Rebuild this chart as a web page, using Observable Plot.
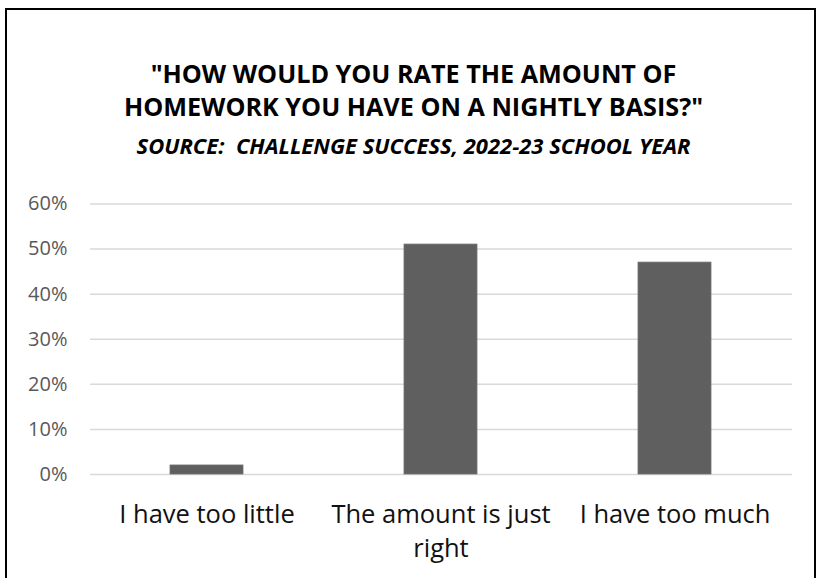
<!DOCTYPE html>
<html>
<head>
<meta charset="utf-8">
<script src="https://cdn.jsdelivr.net/npm/d3@7"></script>
<script src="https://cdn.jsdelivr.net/npm/@observablehq/plot@0.6"></script>
<style>
  html, body { margin: 0; padding: 0; background: #fff; }
  #wrap { position: relative; width: 827px; height: 578px; overflow: hidden; font-family: "Open Sans", Lato, sans-serif; }
  #border { position: absolute; left: 5px; top: 8px; width: 811px; height: 600px; border: 2.5px solid #000; box-sizing: border-box; }
  #title { position: absolute; left: 0; width: 827px; top: 57px; text-align: center; font-weight: bold; font-size: 25.2px; line-height: 33px; color: #000; }
  #subtitle { position: absolute; left: 0; width: 827px; top: 130px; text-align: center; font-weight: bold; font-style: italic; font-size: 22px; color: #000; }
  #chart { position: absolute; left: 0; top: 0; }
</style>
</head>
<body>
<div id="wrap">
  <div id="border"></div>
  <div id="title">"HOW WOULD YOU RATE THE AMOUNT OF<br>HOMEWORK YOU HAVE ON A NIGHTLY BASIS?"</div>
  <div id="subtitle">SOURCE:&nbsp; CHALLENGE SUCCESS, 2022-23 SCHOOL YEAR</div>
  <div id="chart"></div>
</div>
<script>
const categories = ["I have too little", "The amount is just right", "I have too much"];
const labels = ["I have too little", "The amount is just\nright", "I have too much"];
const values = [0.02, 0.51, 0.47];
const yTicks = [0, 0.1, 0.2, 0.3, 0.4, 0.5, 0.6];

const data = categories.map((c, i) => ({cat: c, value: values[i]}));
const labelOf = new Map(categories.map((c, i) => [c, labels[i]]));
const font = "'Open Sans', Lato, sans-serif";

const chart = Plot.plot({
  width: 827,
  height: 578,
  marginTop: 203.5,
  marginBottom: 104,
  marginLeft: 90,
  marginRight: 35,
  style: {background: "transparent", overflow: "visible"},
  x: {domain: categories, paddingInner: 0.688, paddingOuter: 0.344},
  y: {domain: [0, 0.6]},
  marks: [
    Plot.gridY(yTicks, {stroke: "#d9d9d9", strokeOpacity: 1, strokeWidth: 1.5}),
    Plot.barY(data, {x: "cat", y: "value", fill: "#5f5f5f", stroke: "#707070", strokeWidth: 0.8}),
    Plot.axisY(yTicks, {tickSize: 0, tickPadding: 23, tickFormat: d => Math.round(d * 100) + "%", fontSize: 20, fill: "#595959", fontFamily: font, label: null}),
    Plot.axisX({tickSize: 0, tickPadding: 24, tickFormat: d => labelOf.get(d), fontSize: 25.5, fill: "#111", fontFamily: font, label: null, lineHeight: 1.34})
  ]
});
document.getElementById("chart").appendChild(chart);
</script>
</body>
</html>
